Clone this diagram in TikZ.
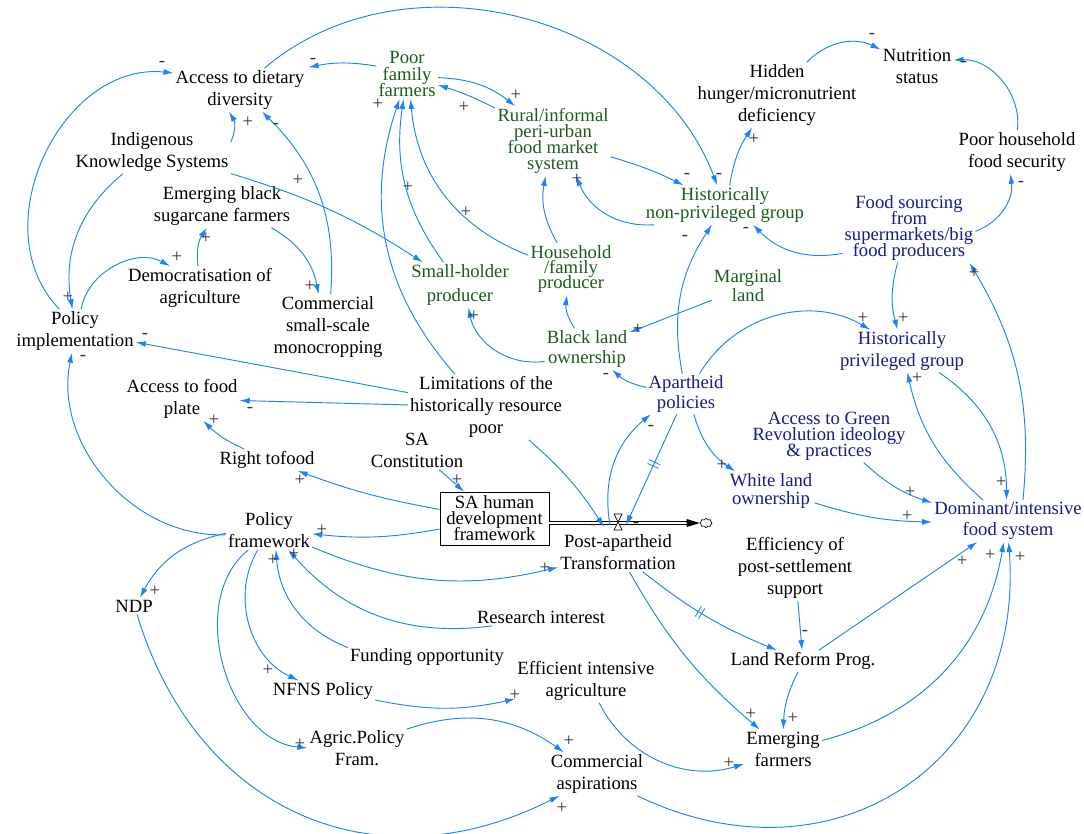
\documentclass[tikz,border=0pt]{standalone}
\usepackage{fontspec}
\setmainfont{Liberation Serif}
\usetikzlibrary{arrows.meta,calc,shapes.symbols,decorations.markings}
\definecolor{lnkc}{RGB}{25,130,255}
\definecolor{grn}{RGB}{30,90,30}
\definecolor{nvy}{RGB}{25,25,140}
\begin{document}
\begin{tikzpicture}[x=0.75pt,y=-0.75pt,
  lbl/.style={align=center, inner sep=1.5pt, font={\fontsize{14}{16.5}\selectfont\lineskiplimit=-30pt}},
  lsp/.style={font={\fontsize{14}{#1}\selectfont\lineskiplimit=-30pt}},
  gr/.style={text=grn}, nv/.style={text=nvy},
  lnk/.style={draw=lnkc, line width=0.7pt, -{Latex[length=7.5pt,width=4.5pt]}},
  sg/.style={inner sep=0pt, font=\fontsize{14}{14}\selectfont, text=black!80},
  dly/.style={postaction={decorate}, decoration={markings, mark=at position #1 with {\draw[lnkc, line width=0.6pt,-] (-2,-6)--(-2,6) (2,-6)--(2,6);}}},
  pipe/.style={draw=black, line width=0.6pt, double=white, double distance=2pt},
]
\useasboundingbox (0,0) rectangle (1084,833);

% ---------- variables ----------
\node[lbl] (adt) at (240,90) {Access to dietary\\diversity};
\node[lbl,gr,lsp=12.4] (pff) at (407,74) {Poor\\family\\farmers};
\node[lbl,gr,lsp=12] (rur) at (553,141) {Rural/informal\\peri-urban\\food market\\system};
\node[lbl] (hh) at (777,95) {Hidden\\hunger/micronutrient\\deficiency};
\node[lbl] (ns) at (917,66) {Nutrition\\status};
\node[lbl] (phfs) at (1017,152) {Poor household\\food security};
\node[lbl,gr,lsp=13.5] (hnp) at (725,205) {Historically\\non-privileged group};
\node[lbl,nv,lsp=12] (fs) at (909,228) {Food sourcing\\from\\supermarkets/big\\food producers};
\node[lbl] (iks) at (152,152) {Indigenous\\Knowledge Systems};
\node[lbl] (ebs) at (222,206) {Emerging black\\sugarcane farmers};
\node[lbl] (dem) at (200,288) {Democratisation of\\agriculture};
\node[lbl] (csm) at (328,327) {Commercial\\small-scale\\monocropping};
\node[lbl,gr,lsp=18] (shp) at (460,285) {Small-holder\\producer};
\node[lbl,gr,lsp=11.6] (hfp) at (571,269) {Household\\/family\\producer};
\node[lbl,gr,lsp=14.3] (ml) at (748,286) {Marginal\\land};
\node[lbl,gr,lsp=15] (blo) at (587,349) {Black land\\ownership};
\node[lbl] (pim) at (75,331) {Policy\\implementation};
\node[lbl,nv,lsp=15.8] (hpg) at (902,351) {Historically\\privileged group};
\node[lbl,nv,lsp=14.3] (ap) at (686,394) {Apartheid\\policies};
\node[lbl] (afp) at (182,399) {Access to food\\plate};
\node[lbl] (lim) at (486,407) {Limitations of the\\historically resource\\poor};
\node[lbl] (sac) at (417,450) {SA\\Constitution};
\node[lbl,nv,lsp=12] (agr) at (829,436) {Access to Green\\Revolution ideology\\\& practices};
\node[lbl] (rtf) at (267,460) {Right tofood};
\node[lbl,nv,lsp=13.5] (wlo) at (771,491) {White land\\ownership};
\node[lbl,lsp=12,draw=black,line width=0.6pt,minimum width=81.75pt,minimum height=39.75pt,inner sep=1pt] (sahd) at (494.5,518.5) {SA human\\development\\framework};
\node[lbl] (pat) at (618,552) {Post-apartheid\\Transformation};
\node[lbl,nv,lsp=15.8] (dom) at (1008,521) {Dominant/intensive\\food system};
\node[lbl] (pf) at (269,530) {Policy\\framework};
\node[lbl] (eps) at (795,568) {Efficiency of\\post-settlement\\support};
\node[lbl] (ndp) at (134,606) {NDP};
\node[lbl] (ri) at (541,617) {Research interest};
\node[lbl] (fo) at (427,657) {Funding opportunity};
\node[lbl] (eia) at (586,681) {Efficient intensive\\agriculture};
\node[lbl] (nfns) at (323,691) {NFNS Policy};
\node[lbl] (lrp) at (803,661) {Land Reform Prog.};
\node[lbl] (apf) at (357,748) {Agric.Policy\\Fram.};
\node[lbl] (ef) at (783,749) {Emerging\\farmers};
\node[lbl] (ca) at (597,774) {Commercial\\aspirations};

% ---------- stock flow ----------
\node[cloud, draw=black, line width=0.5pt, cloud puffs=8, minimum width=9pt, minimum height=7pt, inner sep=0pt] (cld) at (706,523) {};
\coordinate (valve) at (618,522);
\draw[pipe, shorten >=9pt] (sahd.east |- cld) -- (cld.west);
\fill[black] (cld.west) -- ++(-13,-4) -- ++(0,8) -- cycle;
\filldraw[draw=black, fill=white, line width=0.5pt] ($(valve)+(-4,-8)$) -- ($(valve)+(4,-8)$) -- ($(valve)+(-4,8)$) -- ($(valve)+(4,8)$) -- cycle;

% ---------- connectors ----------
\draw[lnk] ($(pff.west)+(0,-8)$) to[bend right=10] ($(adt.north east)+(2,-1)$);
\draw[lnk] (adt) to[bend left=55] (hnp);
\draw[lnk] (pff) to[bend left=18] (rur);
\draw[lnk] (rur) to[bend right=5] (pff);
\draw[lnk] (rur) to[bend left=5] (hnp);
\draw[lnk] (hnp) to[bend left=36] (rur);
\draw[lnk] (hnp) to[bend left=12] (hh);
\draw[lnk] (hh) to[bend left=36] (ns);
\draw[lnk] (phfs) to[bend right=50] (ns);
\draw[lnk] (fs) to[bend right=38] (phfs);
\draw[lnk] (fs) to[bend left=28] (hnp);
\draw[lnk] (fs) to[bend right=15] (hpg);
\draw[lnk] ($(dom.north)+(15,0)$) to[bend right=18] ($(fs.south east)+(-6,0)$);
\draw[lnk] (ap) to[bend left=45] (hpg);
\draw[lnk] (hpg) to[bend left=28] (dom);
\draw[lnk] (dom) to[bend left=18] (hpg);
\draw[lnk] (agr) to[bend right=12] (dom);
\draw[lnk] (wlo) to[bend right=8] (dom);
\draw[lnk] (ap) to[bend right=20] (wlo);
\draw[lnk] (lrp) to (dom);
\draw[lnk] (ef) to[bend right=33] (dom);
\draw[lnk] (ca) to[bend right=60, looseness=1.25] (dom);
\draw[lnk] (eps) to (lrp);
\draw[lnk, dly=0.45] (pat) to[bend right=8] (lrp);
\draw[lnk] (pat) to[bend right=10] (ef);
\draw[lnk] (lrp) to[bend right=12] (ef);
\draw[lnk] (eia) to[bend right=40] (ef);
\draw[lnk] (apf) to[bend left=27] (ca);
\draw[lnk] (ndp) to[bend right=50, looseness=1.15] (ca);
\draw[lnk] (nfns) to[bend right=12] (eia);
\draw[lnk] (pf) to[bend right=48] (nfns);
\draw[lnk] (pf) to[bend right=68] (apf);
\draw[lnk] (pf) to[bend right=25] (ndp);
\draw[lnk] (fo) to[bend left=32] (pf);
\draw[lnk] (ri) to[bend left=28] (pf);
\draw[lnk] (pf) to[bend right=18] (pat);
\draw[lnk] (sahd) to[bend left=8] (pf);
\draw[lnk] (sahd) to[bend left=5] (rtf);
\draw[lnk] (sac) to (sahd);
\draw[lnk] (rtf) to[bend left=10] (afp);
\draw[lnk] (lim) to (afp);
\draw[lnk] (lim) to (pim);
\draw[lnk] (pf) to[bend left=52] (pim);
\draw[lnk] (pim) to[bend left=70, looseness=1.1] (adt);
\draw[lnk] (iks) to[bend right=30] (pim);
\draw[lnk] (iks) to[bend right=28] (adt);
\draw[lnk] (iks) to[bend left=8] (shp);
\draw[lnk] (pim) to[bend left=55] (dem);
\draw[lnk] (dem) to[bend left=20] (ebs);
\draw[lnk] (ebs) to[bend left=25] (csm);
\draw[lnk] (csm) to[bend right=25] (adt);
\draw[lnk] (shp) to[bend left=22] (pff);
\draw[lnk] (hfp) to[bend left=32] (pff);
\draw[lnk] (lim) to[bend left=30] (pff);
\draw[lnk] (blo) to[bend left=43] (shp);
\draw[lnk] (blo) to[bend left=20] (hfp);
\draw[lnk] (ml) to (blo);
\draw[lnk] (hfp) to[bend left=20] (rur);
\draw[lnk] (ap) to[bend left=15] (blo);
\draw[lnk] (ap) to[bend left=22] (hnp);
\draw[lnk, dly=0.45] (ap) to ($(valve)+(8,3)$);
\draw[lnk] ($(valve)+(-8,3)$) to[bend left=30] (ap);
\draw[lnk] (lim) to[bend left=8] ($(valve)+(-14,5)$);

% ---------- polarity signs ----------
\node[sg] (s1) at (313,61) {-};
\node[sg] (s2) at (719,176) {-};
\node[sg] (s3) at (516,95) {+};
\node[sg] (s4) at (464,107) {+};
\node[sg] (s5) at (687,176) {-};
\node[sg] (s6) at (577,179) {+};
\node[sg] (s7) at (754,139) {+};
\node[sg] (s8) at (872,36) {-};
\node[sg] (s9) at (964,64) {-};
\node[sg] (s10) at (1021,184) {-};
\node[sg] (s11) at (746,230) {-};
\node[sg] (s12) at (903,318) {+};
\node[sg] (s13) at (974,273) {+};
\node[sg] (s14) at (863,318) {+};
\node[sg] (s15) at (1001,482) {+};
\node[sg] (s16) at (917,378) {+};
\node[sg] (s17) at (910,492) {+};
\node[sg] (s18) at (907,516) {+};
\node[sg] (s19) at (722,465) {+};
\node[sg] (s20) at (962,561) {+};
\node[sg] (s21) at (990,555) {+};
\node[sg] (s22) at (1020,557) {+};
\node[sg] (s23) at (805,633) {-};
\node[sg] (s25) at (751,714) {+};
\node[sg] (s26) at (793,718) {+};
\node[sg] (s27) at (729,763) {+};
\node[sg] (s28) at (569,741) {+};
\node[sg] (s29) at (562,808) {+};
\node[sg] (s30) at (515,695) {+};
\node[sg] (s31) at (268,670) {+};
\node[sg] (s32) at (300,744) {+};
\node[sg] (s33) at (155,591) {+};
\node[sg] (s34) at (273,560) {+};
\node[sg] (s35) at (294,554) {+};
\node[sg] (s36) at (545,568) {+};
\node[sg] (s37) at (322,530) {+};
\node[sg] (s38) at (300,480) {+};
\node[sg] (s39) at (457,480) {+};
\node[sg] (s40) at (214,420) {+};
\node[sg] (s41) at (250,410) {-};
\node[sg] (s42) at (145,336) {-};
\node[sg] (s43) at (83,358) {-};
\node[sg] (s44) at (162,64) {-};
\node[sg] (s45) at (68,297) {+};
\node[sg] (s46) at (248,122) {+};
\node[sg] (s47) at (298,180) {+};
\node[sg] (s48) at (177,257) {+};
\node[sg] (s49) at (206,238) {+};
\node[sg] (s50) at (310,286) {+};
\node[sg] (s51) at (276,126) {-};
\node[sg] (s52) at (408,187) {+};
\node[sg] (s53) at (466,212) {+};
\node[sg] (s54) at (378,104) {+};
\node[sg] (s55) at (474,316) {+};
\node[sg] (s57) at (638,329) {+};
\node[sg] (s59) at (606,376) {-};
\node[sg] (s60) at (685,238) {-};
\node[sg] (s61) at (636,525) {-};
\node[sg] (s62) at (651,428) {-};
\node[sg] (s63) at (593,527) {-};
\end{tikzpicture}
\end{document}
